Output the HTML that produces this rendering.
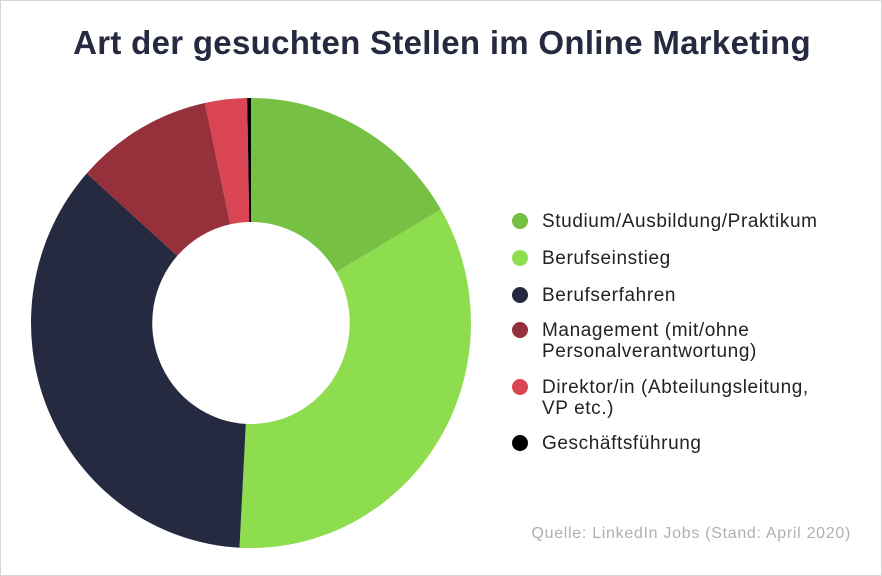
<!DOCTYPE html>
<html><head><meta charset="utf-8"><style>
html,body{margin:0;padding:0;background:#fff}
#w{position:relative;width:880px;height:574px;border:1px solid #d6d6d6;overflow:hidden;font-family:"Liberation Sans",sans-serif}
h1{position:absolute;left:0;top:23px;width:882px;text-align:center;margin:0;font-size:33px;font-weight:bold;color:#262a40;letter-spacing:0.3px}
.l{position:absolute;left:541px;font-size:19px;line-height:21px;color:#222;letter-spacing:0.6px}
.d{position:absolute;left:511px;width:16px;height:16px;border-radius:50%}
.src{position:absolute;right:30px;top:524px;font-size:16px;color:#b0b0b0;letter-spacing:0.7px}
</style></head><body><div id="w">
<h1>Art der gesuchten Stellen im Online Marketing</h1>
<svg id="s" width="882" height="576" style="position:absolute;left:0;top:0"></svg>
<div class="d" style="top:212px;background:#76c043"></div><div class="l" style="top:210px">Studium/Ausbildung/Praktikum</div>
<div class="d" style="top:249px;background:#8ddd4f"></div><div class="l" style="top:247px">Berufseinstieg</div>
<div class="d" style="top:286px;background:#262a40"></div><div class="l" style="top:284px">Berufserfahren</div>
<div class="d" style="top:321px;background:#96303a"></div><div class="l" style="top:319px">Management (mit/ohne<br>Personalverantwortung)</div>
<div class="d" style="top:378px;background:#d94552"></div><div class="l" style="top:376px">Direktor/in (Abteilungsleitung,<br>VP etc.)</div>
<div class="d" style="top:434px;background:#000"></div><div class="l" style="top:432px">Geschäftsführung</div>
<div class="src">Quelle: LinkedIn Jobs (Stand: April 2020)</div>
</div>
<script>
var cx=250,cy=322,R=225,r=101,sx=220/225;
var seg=[[0,59.7,"#76c043"],[59.7,183,"#8ddd4f"],[183,311.7,"#262a40"],[311.7,347.9,"#96303a"],[347.9,359,"#d94552"],[359,360,"#000"]];
function p(a,rad){a=a*Math.PI/180;return [rad*Math.sin(a),-rad*Math.cos(a)];}
var h='<g transform="translate('+cx+' '+cy+') scale('+sx+' 1)">';
seg.forEach(function(s){var a=p(s[0],R),b=p(s[1],R),c=p(s[1],r),d=p(s[0],r),lg=(s[1]-s[0])>180?1:0;
h+='<path fill="'+s[2]+'" d="M'+a+' A'+R+' '+R+' 0 '+lg+' 1 '+b+' L'+c+' A'+r+' '+r+' 0 '+lg+' 0 '+d+' Z"/>';});
document.getElementById("s").innerHTML=h+'</g>';
</script>
</body></html>
